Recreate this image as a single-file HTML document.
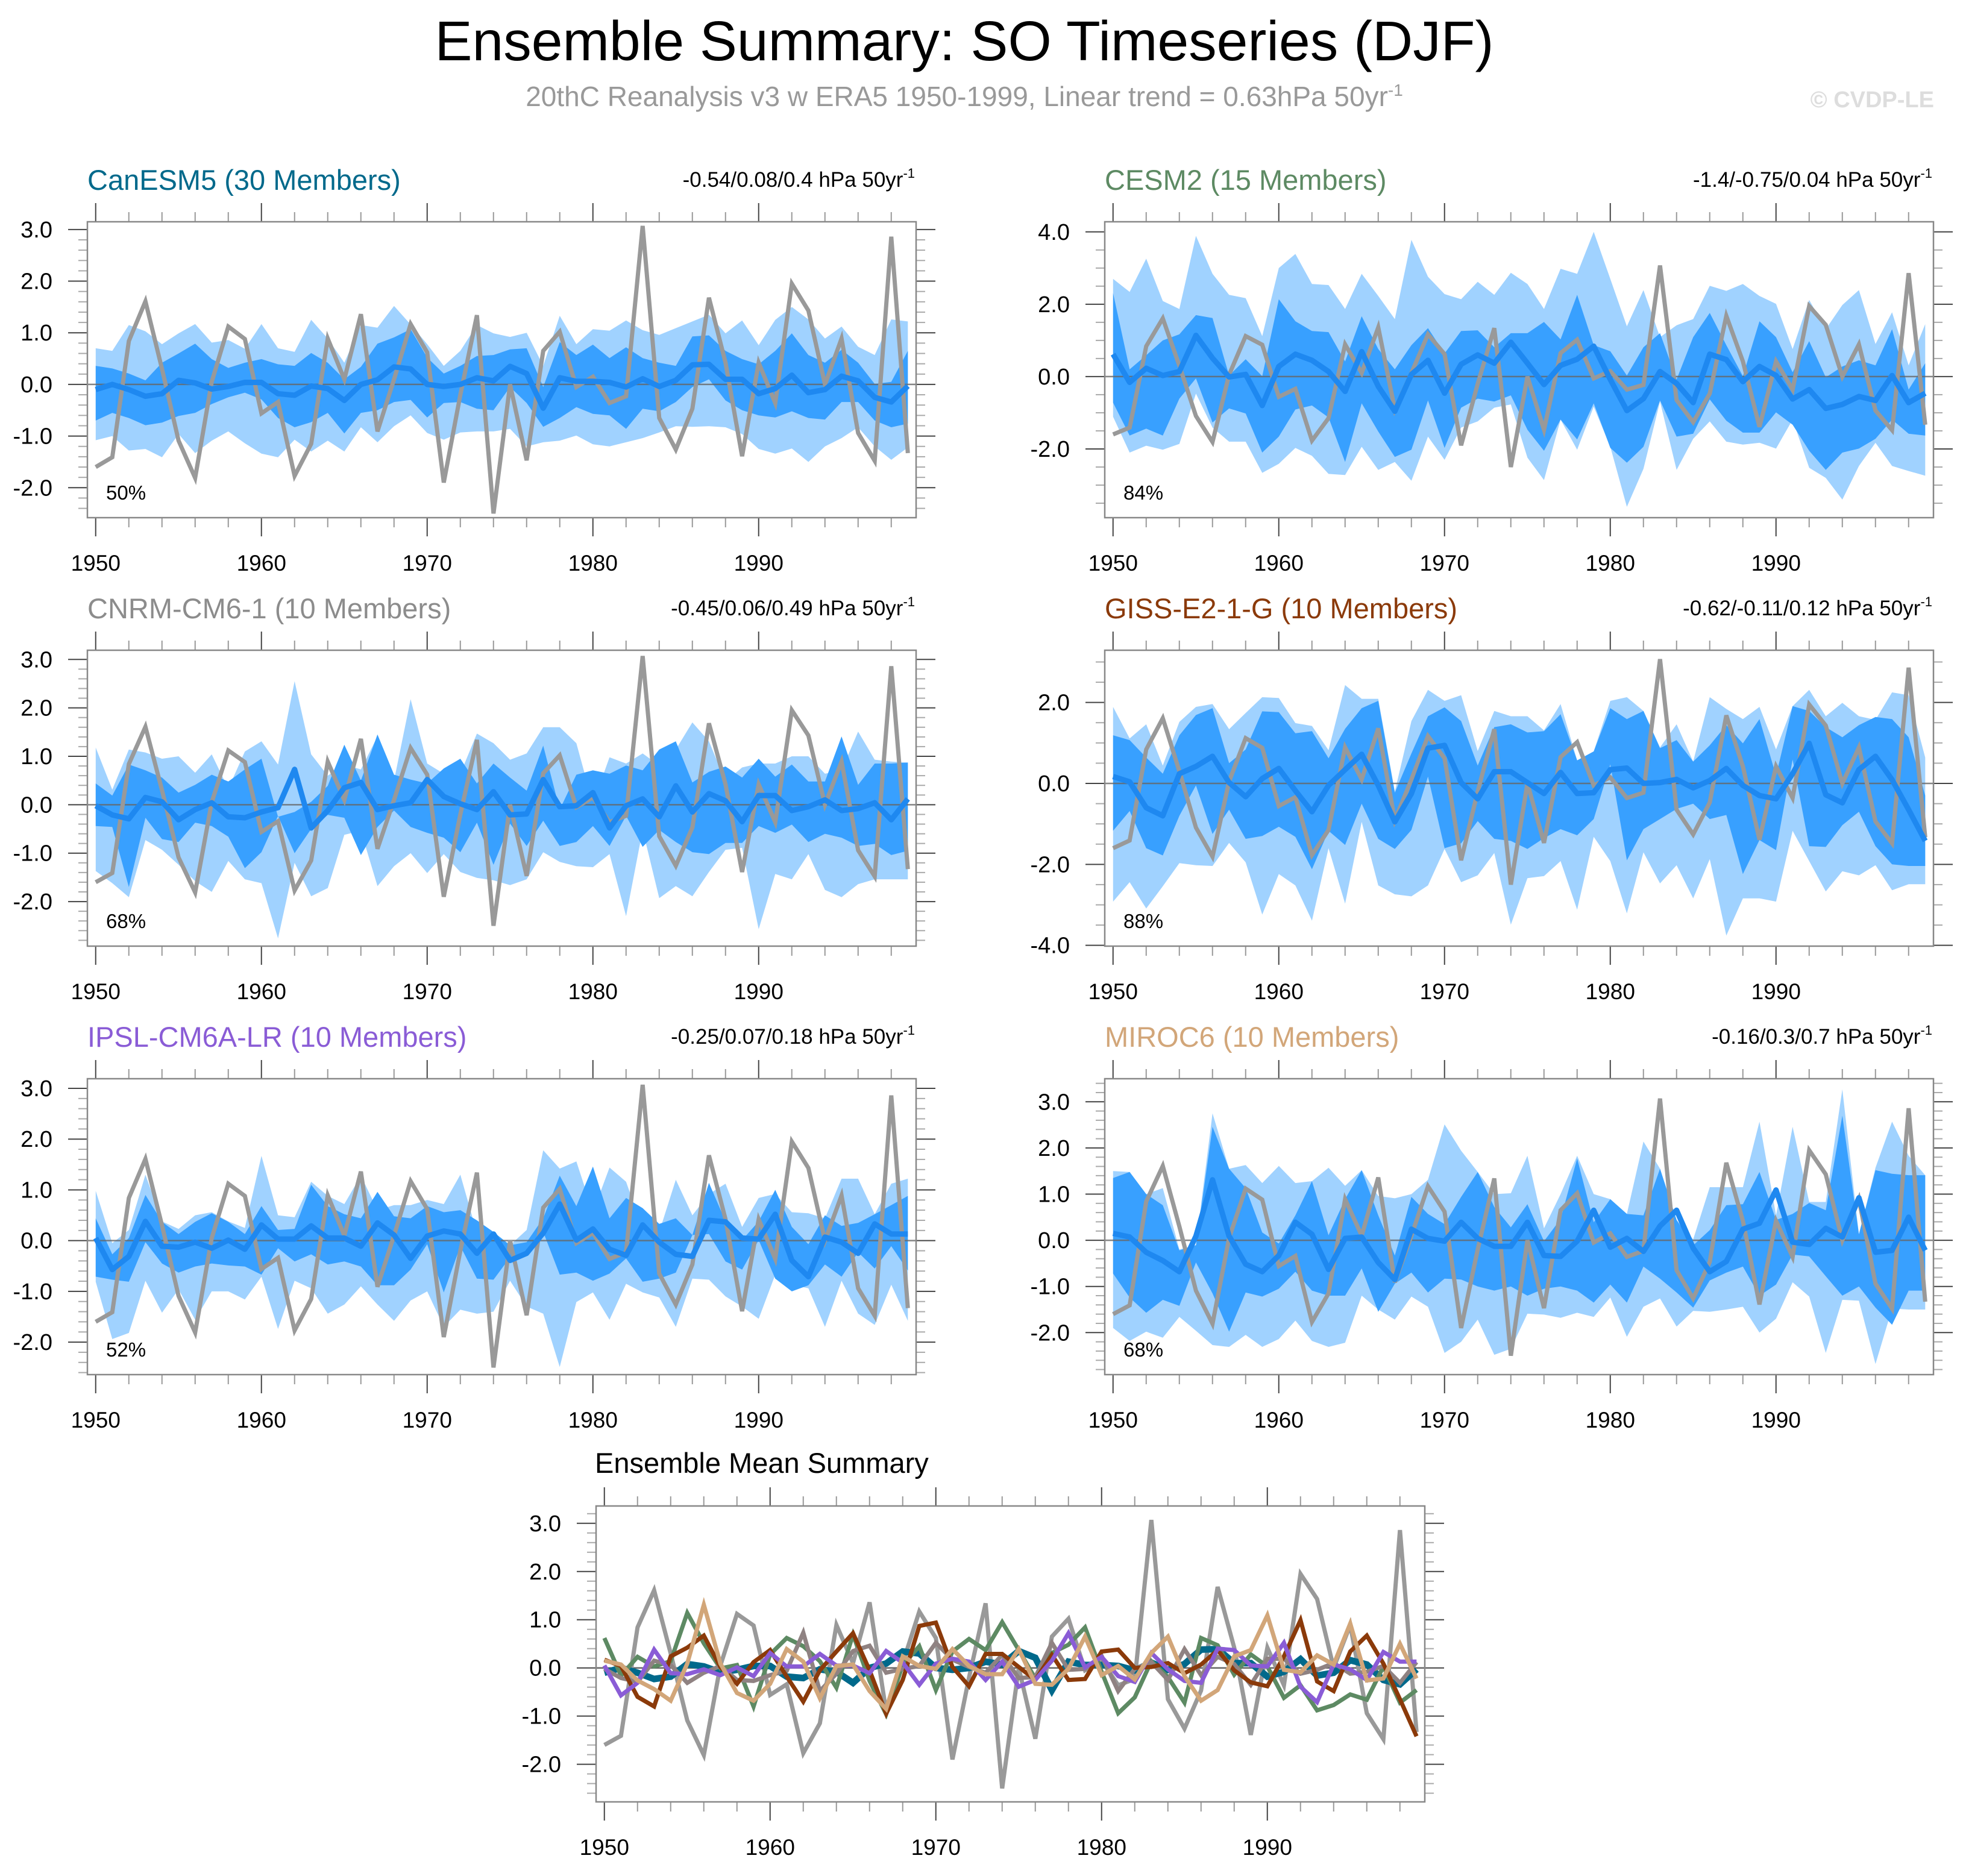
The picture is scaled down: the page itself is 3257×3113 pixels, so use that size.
<!DOCTYPE html>
<html><head><meta charset="utf-8">
<style>
html,body{margin:0;padding:0;background:#fff;}
svg{display:block;font-family:"Liberation Sans",Arial,sans-serif;}
</style></head>
<body>
<svg id="fig" width="3257" height="3113" viewBox="0 0 3257 3113" xmlns="http://www.w3.org/2000/svg">
<text x="1600" y="100" font-size="93" text-anchor="middle" fill="#000">Ensemble Summary: SO Timeseries (DJF)</text>
<text x="1600" y="176" font-size="46" text-anchor="middle" fill="#999">20thC Reanalysis v3 w ERA5 1950-1999, Linear trend = 0.63hPa 50yr<tspan dy="-17" font-size="28">-1</tspan></text>
<text x="3209" y="178" font-size="38" font-weight="bold" text-anchor="end" fill="#ddd">© CVDP-LE</text>
<g id="plots"></g>
</svg>
<script>
const years = [];
for (let y = 1950; y <= 1999; y++) years.push(y);
const obs = [-1.6,-1.41,0.84,1.61,0.3,-1.09,-1.81,0.05,1.12,0.88,-0.56,-0.34,-1.77,-1.15,0.89,0.1,1.36,-0.91,0.1,1.17,0.62,-1.9,-0.2,1.34,-2.5,0.0,-1.47,0.65,1.02,-0.05,0.15,-0.36,-0.23,3.07,-0.65,-1.26,-0.47,1.68,0.42,-1.39,0.42,-0.36,1.95,1.43,0.0,0.89,-0.94,-1.48,2.86,-1.33];

const canMean = [-0.1,0,-0.1,-0.23,-0.18,0.08,0.03,-0.09,-0.04,0.04,0.04,-0.18,-0.21,-0.03,-0.08,-0.31,0,0.09,0.34,0.3,0,-0.04,0,0.13,0.07,0.35,0.21,-0.46,0.13,0.06,0.06,0.04,-0.05,0.11,-0.04,0.08,0.38,0.39,0.1,0.1,-0.18,-0.08,0.18,-0.16,-0.1,0.16,0.07,-0.25,-0.34,-0.03];
const canHi1 = [0.36,0.31,0.21,0.08,0.42,0.6,0.79,0.49,0.32,0.42,0.49,0.39,0.36,0.61,0.42,0.1,0.34,0.79,0.91,1.07,0.52,0.21,0.36,0.55,0.57,0.68,0.7,-0.05,0.82,0.57,0.77,0.51,0.72,0.51,0.42,0.36,0.93,0.95,0.65,0.49,0.39,0.65,0.99,0.57,0.42,0.67,0.42,0.01,0.05,0.65];
const canLo1 = [-0.7,-0.55,-0.65,-0.79,-0.74,-0.61,-0.55,-0.38,-0.25,-0.16,-0.29,-0.65,-0.83,-0.73,-0.55,-0.95,-0.55,-0.5,-0.34,-0.3,-0.64,-0.36,-0.34,-0.47,-0.5,-0.05,-0.36,-0.82,-0.65,-0.44,-0.57,-0.6,-0.86,-0.47,-0.52,-0.34,-0.05,0.1,-0.31,-0.5,-0.6,-0.64,-0.52,-0.65,-0.68,-0.34,-0.34,-0.7,-0.83,-0.76];
const canHi2 = [0.7,0.65,1.15,1.03,0.78,0.99,1.17,0.81,0.86,0.69,1.17,0.7,0.63,1.25,0.89,0.42,1.15,1.1,1.52,1.16,0.78,0.36,0.65,1.15,0.99,0.92,1.0,0.36,1.33,0.78,1.07,1.04,1.24,1.05,0.96,1.09,1.22,1.35,0.99,1.24,0.76,1.25,1.5,1.26,0.89,1.12,0.73,0.57,1.26,1.22];
const canLo2 = [-1.08,-1.0,-1.28,-1.25,-1.41,-0.96,-1.33,-1.09,-0.91,-1.14,-1.34,-1.41,-1.07,-1.3,-1.09,-1.3,-0.83,-1.12,-0.81,-0.6,-0.94,-1.07,-0.93,-0.91,-0.91,-0.86,-1.2,-1.12,-1.09,-0.99,-1.16,-1.2,-1.12,-1.04,-0.93,-0.81,-0.82,-0.81,-0.83,-0.96,-1.25,-1.34,-1.24,-1.5,-1.2,-1.04,-0.83,-1.2,-1.46,-1.22];

const cesMean = [0.62,-0.16,0.23,0.03,0.14,1.14,0.51,-0.01,0.06,-0.8,0.28,0.62,0.45,0.14,-0.41,0.69,-0.27,-0.96,0.06,0.45,-0.46,0.34,0.6,0.37,0.95,0.37,-0.22,0.31,0.48,0.84,-0.08,-0.94,-0.61,0.14,-0.19,-0.72,0.62,0.47,-0.14,0.28,0.03,-0.62,-0.36,-0.88,-0.77,-0.55,-0.66,0.03,-0.72,-0.46];
const cesHi1 = [2.31,0.2,0.59,1.0,1.17,1.7,1.62,0.03,0.48,0.01,2.14,1.53,1.26,1.23,0.42,1.67,0.76,0.2,0.87,1.34,0.64,1.26,1.28,0.81,1.2,1.2,1.51,1.03,2.26,0.87,0.7,0.03,0.81,1.2,-0.08,1.09,1.76,0.87,0.01,1.53,1.09,0.12,0.98,-0.02,0.28,0.45,0.31,1.31,-0.36,0.37];
const cesLo1 = [-0.72,-1.63,-1.44,-1.63,-0.61,-0.05,-1.27,-0.88,-1.02,-2.1,-1.66,-0.91,-0.8,-1.13,-2.36,-0.74,-1.52,-2.22,-2.02,-0.66,-1.97,-0.86,-0.61,-0.69,-0.52,-1.47,-2.05,-1.19,-1.74,-0.74,-1.97,-2.38,-1.94,-0.66,-1.66,-1.58,-0.63,-1.22,-1.55,-1.55,-0.99,-1.33,-2.05,-2.58,-2.1,-1.99,-1.72,-1.19,-1.58,-1.63];
const cesHi2 = [2.7,2.34,3.26,2.09,1.87,3.89,2.84,2.26,2.17,1.12,3.0,3.39,2.56,2.53,1.87,2.84,2.23,1.59,3.78,2.76,2.28,2.14,2.62,2.26,2.87,2.56,1.87,2.98,2.84,4.0,2.7,1.39,2.39,1.09,1.42,1.59,2.51,2.37,2.56,2.23,2.01,0.76,2.12,1.31,1.98,2.39,0.9,1.78,0.31,1.45];
const cesLo2 = [-1.11,-2.1,-1.91,-2.02,-1.86,-0.47,-1.41,-1.8,-1.8,-2.66,-2.41,-1.97,-2.19,-2.69,-2.72,-1.94,-2.58,-2.36,-2.88,-1.66,-2.3,-1.41,-1.24,-0.86,-0.77,-2.24,-2.86,-1.19,-2.02,-0.83,-1.94,-3.6,-2.55,-0.69,-2.58,-1.72,-1.24,-1.8,-1.88,-1.83,-1.99,-1.19,-2.52,-2.8,-3.4,-2.47,-1.83,-2.47,-2.61,-2.74];

const cnrMean = [-0.02,-0.21,-0.29,0.15,0.06,-0.31,-0.1,0.04,-0.25,-0.27,-0.15,-0.06,0.73,-0.48,-0.12,0.35,0.46,-0.1,-0.02,0.04,0.52,0.17,0.02,-0.1,0.27,-0.21,-0.19,0.52,-0.04,-0.02,0.25,-0.48,-0.02,0.12,-0.25,0.39,-0.15,0.23,0.08,-0.35,0.19,0.19,-0.12,-0.04,0.1,-0.12,-0.08,0.04,-0.31,0.12];
const cnrHi1 = [0.44,0.19,0.83,0.71,0.56,0.25,0.41,0.62,0.48,0.73,0.95,-0.25,-0.15,0.06,0.39,1.24,0.5,1.45,0.62,0.52,0.44,0.75,0.95,0.44,0.85,0.56,0.29,1.22,-0.1,0.62,0.71,0.64,0.81,0.71,1.14,1.31,0.46,0.68,0.79,0.56,0.95,0.58,0.83,0.48,0.48,1.41,0.41,0.85,0.85,0.87];
const cnrLo1 = [-0.44,-0.46,-1.7,-0.27,-0.71,-0.77,-0.37,-0.44,-0.66,-1.31,-0.98,-0.23,-1.0,-0.5,-0.21,-0.27,-1.04,-0.46,-0.12,-0.46,-0.58,-0.68,-0.98,-0.37,-1.24,-0.39,-0.85,-0.33,-0.85,-0.77,-0.44,-0.85,-0.23,-0.87,-0.52,-0.77,-0.98,-1.02,-0.79,-0.79,-0.44,-0.58,-0.41,-0.77,-0.6,-0.68,-0.85,-0.81,-1.04,-0.95];
const cnrHi2 = [1.18,0.31,1.14,1.08,0.95,1.0,0.66,1.04,0.33,1.1,1.31,0.83,2.55,1.04,0.6,0.83,0.73,1.41,0.5,2.18,0.85,0.64,0.64,1.47,1.27,0.93,1.06,1.6,1.6,1.27,0.02,0.98,0.85,1.06,0.81,1.14,1.7,1.31,0.48,0.77,0.85,0.85,1.0,1.0,0.64,0.71,1.51,0.93,0.89,0.87];
const cnrLo2 = [-1.37,-1.62,-1.91,-0.73,-0.93,-1.24,-1.58,-1.8,-1.16,-1.54,-1.62,-2.76,-1.2,-1.89,-1.72,-0.62,-0.54,-1.68,-1.27,-1.0,-1.41,-1.02,-1.39,-1.51,-1.56,-1.66,-1.54,-0.98,-1.18,-1.27,-1.29,-1.02,-2.3,-0.52,-1.93,-1.68,-1.89,-1.39,-0.93,-0.89,-2.57,-1.43,-1.54,-1.02,-1.76,-1.91,-1.64,-1.54,-1.54,-1.54];

const gisMean = [0.17,0.04,-0.6,-0.8,0.24,0.42,0.67,0.02,-0.33,0.12,0.37,-0.18,-0.7,-0.05,0.34,0.72,-0.05,-0.95,-0.25,0.87,0.94,0.02,-0.38,0.29,0.29,0.02,-0.25,0.27,-0.25,-0.23,0.34,0.38,0.0,0.02,0.1,-0.11,0.07,0.37,-0.05,-0.3,-0.38,0.24,0.99,-0.28,-0.48,0.34,0.67,0.09,-0.65,-1.42];
const gisHi1 = [1.19,1.07,0.64,0.24,1.19,1.69,1.86,0.5,0.84,1.78,1.76,1.24,1.29,0.62,1.35,1.86,2.04,-0.23,0.74,1.66,1.88,1.54,0.44,1.39,1.46,1.26,1.29,1.71,0.57,0.79,1.86,1.59,1.79,0.87,1.07,0.54,0.94,1.44,0.99,1.59,0.19,1.91,1.79,1.39,1.14,1.44,1.64,1.59,1.14,-0.3];
const gisLo1 = [-1.17,-0.68,-1.6,-1.78,-0.8,-0.05,-1.25,-0.65,-1.37,-1.3,-1.07,-1.32,-2.12,-1.17,-1.52,-0.5,-1.37,-1.62,-1.15,0.17,-1.6,-1.48,-0.93,-1.37,-1.42,-1.62,-1.35,-1.13,-1.28,-0.88,0.47,-1.9,-1.13,-0.88,-0.63,-0.5,-0.88,-0.78,-2.24,-1.4,-1.65,0.59,-1.55,-1.57,-1.03,-0.7,-1.55,-2.0,-2.04,-2.04];
const gisHi2 = [1.89,1.11,1.46,0.44,1.52,1.89,1.96,1.34,1.74,2.13,2.11,1.49,1.42,0.82,2.43,2.09,2.09,-0.2,1.54,2.31,2.04,2.18,0.8,1.79,1.66,1.66,1.31,1.96,0.57,0.79,2.04,2.13,1.79,0.89,1.46,0.54,2.13,1.84,1.59,1.89,0.84,1.91,2.31,1.66,1.99,1.66,1.57,2.25,2.18,0.64];
const gisLo2 = [-2.92,-2.44,-3.09,-2.54,-1.97,-2.02,-2.04,-1.47,-1.95,-3.24,-2.24,-2.52,-3.39,-1.6,-2.97,-0.95,-2.52,-2.74,-2.79,-2.52,-1.62,-2.44,-2.27,-1.72,-3.49,-2.34,-2.29,-1.92,-3.12,-1.32,-1.92,-3.21,-1.7,-2.47,-2.02,-2.84,-1.87,-3.76,-2.84,-2.84,-2.92,-1.17,-1.92,-2.67,-2.17,-2.27,-2.02,-2.64,-2.49,-2.49];

const ipsMean = [0.05,-0.57,-0.31,0.38,-0.11,-0.13,-0.03,-0.15,0.01,-0.17,0.31,0.03,0.03,0.29,0.05,0.05,-0.11,0.35,0.11,-0.35,0.09,0.19,0.13,-0.25,0.13,-0.39,-0.25,0.15,0.72,0.01,0.23,-0.17,-0.29,0.31,-0.03,-0.27,-0.31,0.4,0.37,0.05,0.03,0.52,-0.39,-0.71,0.07,-0.03,-0.25,0.33,0.13,0.13];
const ipsHi1 = [0.44,-0.27,0.05,0.9,0.37,0.13,0.37,0.54,0.37,0.13,0.68,0.21,0.23,1.1,0.68,0.52,0.44,0.96,0.48,0.44,0.68,0.56,0.6,0.4,0.17,-0.09,-0.03,0.44,1.28,0.68,1.46,0.44,0.84,0.64,0.33,0.44,0.11,1.14,0.38,0.01,0.38,1.0,0.27,-0.07,0.5,0.29,0.35,0.52,0.7,0.88];
const ipsLo1 = [-0.71,-0.77,-0.81,-0.03,-0.45,-0.63,-0.51,-0.45,-0.49,-0.51,-0.67,-0.15,-0.41,-0.27,-0.47,-0.41,-0.51,-0.88,-0.88,-0.57,-0.07,-1.02,-0.11,-0.75,-0.77,-0.33,-0.21,0.17,-0.67,-0.63,-0.79,-0.65,-0.35,-0.81,-0.75,-0.63,0.11,0.13,-0.41,-0.57,0.01,-0.75,-1.0,-0.88,-0.47,-0.71,-0.23,-0.55,-0.11,-0.59];
const ipsHi2 = [0.98,-0.05,0.21,1.3,0.38,0.23,0.5,0.56,0.38,0.25,1.67,0.5,0.46,1.16,0.88,0.72,1.28,0.6,0.7,0.7,0.8,0.72,1.3,0.15,0.13,-0.09,0.21,1.78,1.42,1.56,0.56,1.44,1.16,0.23,0.17,1.2,0.5,0.92,1.12,0.27,0.84,0.92,0.56,0.54,0.44,1.22,1.22,0.52,1.12,1.22];
const ipsLo2 = [-0.81,-1.94,-1.82,-0.79,-1.42,-0.96,-1.56,-1.0,-1.0,-1.16,-0.71,-1.74,-0.79,-0.94,-1.44,-1.26,-0.9,-1.26,-1.58,-1.18,-1.0,-1.7,-1.36,-1.44,-1.4,-0.79,-1.3,-1.44,-2.49,-1.21,-1.02,-1.56,-0.85,-1.02,-1.12,-1.7,-0.75,-0.77,-1.1,-1.3,-1.54,-0.67,-0.87,-0.94,-1.7,-0.79,-1.44,-1.66,-0.87,-1.58];

const mirMean = [0.15,0.07,-0.26,-0.44,-0.68,0.09,1.31,0.09,-0.52,-0.68,-0.33,0.39,0.13,-0.63,0.04,0.07,-0.48,-0.85,0.24,0.04,-0.02,0.39,0.04,-0.13,-0.13,0.39,-0.33,-0.35,-0.02,0.65,-0.15,0.04,-0.24,0.31,0.65,-0.17,-0.68,-0.46,0.24,0.37,1.09,-0.04,-0.09,0.26,0.07,0.92,-0.26,-0.22,0.5,-0.22];
const mirHi1 = [1.35,1.48,1.0,0.76,-0.22,-0.11,2.46,1.55,1.13,0.17,-0.07,0.54,1.28,0.11,0.89,1.52,0.54,-0.33,0.94,0.57,0.35,0.94,1.48,0.72,0.28,0.78,-0.02,0.46,1.77,0.39,0.89,0.57,0.54,1.55,0.44,-0.11,0.22,0.76,0.78,1.48,0.44,0.57,0.81,0.65,2.7,0.13,1.52,1.44,1.41,1.41];
const mirLo1 = [-0.72,-1.24,-1.57,-1.29,-1.42,-0.48,-1.15,-1.98,-1.13,-1.22,-1.05,-0.68,-1.09,-1.2,-1.2,-0.61,-1.55,-0.94,-0.7,-1.13,-0.83,-0.85,-1.0,-1.09,-1.0,-1.2,-1.05,-1.0,-1.09,-1.35,-0.96,-1.35,-0.57,-0.83,-1.13,-1.46,-0.87,-0.7,-0.57,-1.2,-0.96,-0.31,-0.35,-0.78,-1.2,-1.0,-1.46,-1.83,-1.09,-1.09];
const mirHi2 = [1.5,1.48,1.0,1.13,-0.2,-0.1,2.75,1.55,1.63,1.24,1.61,1.24,1.28,1.57,1.18,1.52,0.96,0.91,1.0,1.31,2.51,1.94,1.48,1.0,1.02,1.83,0.26,1.0,1.83,1.0,0.89,0.57,2.14,1.55,0.44,0.02,1.15,1.15,1.15,2.57,0.54,2.46,0.83,0.83,3.27,0.13,1.57,2.57,1.83,1.41];
const mirLo2 = [-1.9,-2.18,-1.98,-2.11,-1.66,-1.96,-2.27,-2.31,-2.05,-2.31,-2.14,-1.74,-2.18,-2.31,-2.22,-1.2,-1.5,-1.72,-1.22,-1.44,-2.44,-2.2,-1.72,-2.48,-2.35,-1.59,-1.61,-1.68,-1.57,-1.66,-1.24,-2.09,-1.44,-1.26,-1.87,-1.53,-1.55,-1.5,-1.44,-2.0,-1.7,-0.91,-1.22,-2.44,-1.29,-1.31,-2.68,-1.48,-1.5,-1.5];

const modelNames = ["CanESM5 (30 Members)","CESM2 (15 Members)","CNRM-CM6-1 (10 Members)","GISS-E2-1-G (10 Members)","IPSL-CM6A-LR (10 Members)","MIROC6 (10 Members)"];
const trendText = ["-0.54/0.08/0.4","-1.4/-0.75/0.04","-0.45/0.06/0.49","-0.62/-0.11/0.12","-0.25/0.07/0.18","-0.16/0.3/0.7"];
const pctText = ["50%","84%","68%","88%","52%","68%"];
const xTicks = [1950,1960,1970,1980,1990];

const NS = "http://www.w3.org/2000/svg";
const root = document.getElementById('plots');
function mk(tag, attrs, parent, text) {
  const e = document.createElementNS(NS, tag);
  for (const k in attrs) e.setAttribute(k, attrs[k]);
  if (text !== undefined) e.textContent = text;
  (parent || root).appendChild(e);
  return e;
}

const panels = [
  {key:'canesm5', left:145, top:368, ymin:-2.58, ymax:3.15, major:[3,2,1,0,-1,-2], minor:0.2, color:'#00698b', mean:canMean, hi1:canHi1, lo1:canLo1, hi2:canHi2, lo2:canLo2},
  {key:'cesm2', left:1833, top:368, ymin:-3.9, ymax:4.28, major:[4,2,0,-2], minor:0.5, color:'#5d8a63', mean:cesMean, hi1:cesHi1, lo1:cesLo1, hi2:cesHi2, lo2:cesLo2},
  {key:'cnrm', left:145, top:1079, ymin:-2.92, ymax:3.19, major:[3,2,1,0,-1,-2], minor:0.2, color:'#8c8c8c', mean:cnrMean, hi1:cnrHi1, lo1:cnrLo1, hi2:cnrHi2, lo2:cnrLo2},
  {key:'giss', left:1833, top:1079, ymin:-4.02, ymax:3.29, major:[2,0,-2,-4], minor:0.5, color:'#8b3a0a', mean:gisMean, hi1:gisHi1, lo1:gisLo1, hi2:gisHi2, lo2:gisLo2},
  {key:'ipsl', left:145, top:1790, ymin:-2.64, ymax:3.19, major:[3,2,1,0,-1,-2], minor:0.2, color:'#8a5cd6', mean:ipsMean, hi1:ipsHi1, lo1:ipsLo1, hi2:ipsHi2, lo2:ipsLo2},
  {key:'miroc6', left:1833, top:1790, ymin:-2.91, ymax:3.5, major:[3,2,1,0,-1,-2], minor:0.2, color:'#d2a679', mean:mirMean, hi1:mirHi1, lo1:mirLo1, hi2:mirHi2, lo2:mirLo2}
];
const W = 1375, H = 491;

function axes(g, p) {
  const xs = yr => p.left + (yr - 1949.5) / 50 * W;
  const ys = v => p.top + (p.ymax - v) / (p.ymax - p.ymin) * H;
  for (let yr = 1950; yr <= 1999; yr++) {
    const isMaj = yr % 10 === 0;
    if (!isMaj && yr % 2 !== 0) continue;
    const len = isMaj ? 31 : 16;
    const col = isMaj ? '#444' : '#999';
    const t1 = mk('line', {x1:xs(yr), x2:xs(yr), y1:p.top, y2:p.top-len, stroke:col, 'stroke-width':2}, g);
    
    
    const t2 = mk('line', {x1:xs(yr), x2:xs(yr), y1:p.top+H, y2:p.top+H+len, stroke:col, 'stroke-width':2}, g);
    
    
  }
  xTicks.forEach(yr => {
    const t = mk('text', {x:xs(yr), y:p.top+H+88, 'font-size':37, 'text-anchor':'middle', fill:'#000'}, g, String(yr));
    
    
  });
  const n0 = Math.ceil(p.ymin / p.minor - 1e-6), n1 = Math.floor(p.ymax / p.minor + 1e-6);
  for (let n = n0; n <= n1; n++) {
    const v = n * p.minor;
    const isMaj = p.major.some(m => Math.abs(m - v) < 1e-6);
    const len = isMaj ? 32 : 15;
    const col = isMaj ? '#444' : '#aaa';
    const a = mk('line', {x1:p.left-len, x2:p.left, y1:ys(v), y2:ys(v), stroke:col, 'stroke-width':2}, g);
    
    
    const b = mk('line', {x1:p.left+W, x2:p.left+W+len, y1:ys(v), y2:ys(v), stroke:col, 'stroke-width':2}, g);
    
    
  }
  p.major.forEach(v => {
    const t = mk('text', {x:p.left-58, y:ys(v)+13, 'font-size':38, 'text-anchor':'end', fill:'#000'}, g, v.toFixed(1));
    
    
  });
  return {xs, ys};
}

function poly(vals, xs, ys) {
  return vals.map((v, i) => xs(years[i]).toFixed(1) + ',' + ys(v).toFixed(1)).join(' ');
}
function band(hi, lo, xs, ys) {
  const up = hi.map((v, i) => xs(years[i]).toFixed(1) + ',' + ys(v).toFixed(1));
  const dn = lo.map((v, i) => xs(years[i]).toFixed(1) + ',' + ys(v).toFixed(1)).reverse();
  return up.concat(dn).join(' ');
}

panels.forEach((p, idx) => {
  const g = mk('g', {});
  
  
  const clipId = 'clip' + idx;
  const cp = mk('clipPath', {id: clipId}, g);
  mk('rect', {x:p.left, y:p.top, width:W, height:H}, cp);
  const {xs, ys} = axes(g, p);
  const data = mk('g', {'clip-path':'url(#' + clipId + ')'}, g);
  const b2 = mk('polygon', {points: band(p.hi2, p.lo2, xs, ys), fill:'#a0d2ff'}, data);
  
  
  const b1 = mk('polygon', {points: band(p.hi1, p.lo1, xs, ys), fill:'#38a0ff'}, data);
  
  
  const z = mk('line', {x1:p.left, x2:p.left+W, y1:ys(0), y2:ys(0), stroke:'#666', 'stroke-width':2.5, 'stroke-opacity':0.8}, data);
  
  
  const o = mk('polyline', {points: poly(obs, xs, ys), fill:'none', stroke:'#999', 'stroke-width':7, 'stroke-linejoin':'miter'}, data);
  
  
  const m = mk('polyline', {points: poly(p.mean, xs, ys), fill:'none', stroke:'#1e88f0', 'stroke-width':9, 'stroke-linejoin':'round'}, data);
  
  
  const box = mk('rect', {x:p.left, y:p.top, width:W, height:H, fill:'none', stroke:'#888', 'stroke-width':2.5}, g);
  
  
  const t = mk('text', {x:p.left, y:p.top-53, 'font-size':47, fill:p.color}, g, modelNames[idx]);
  
  
  const tr = mk('text', {x:p.left+W-2, y:p.top-58, 'font-size':35, 'text-anchor':'end', fill:'#000'}, g);
  
  
  tr.textContent = trendText[idx] + ' hPa 50yr';
  mk('tspan', {dy:-15, 'font-size':22}, tr, '-1');
  const pc = mk('text', {x:p.left+31, y:p.top+H-30, 'font-size':33, fill:'#000'}, g, pctText[idx]);
  
  
});

const sumColors = ['#00698b','#5d8a63','#8f8282','#8b3a0a','#8a5cd6','#d2a679'];
const summ = {left:989, top:2499, ymin:-2.78, ymax:3.36, major:[3,2,1,0,-1,-2], minor:0.2};
(function(){
  const g = mk('g', {});
  
  
  const cp = mk('clipPath', {id:'clipS'}, g);
  mk('rect', {x:summ.left, y:summ.top, width:W, height:H}, cp);
  const {xs, ys} = axes(g, summ);
  const data = mk('g', {'clip-path':'url(#clipS)'}, g);
  const z = mk('line', {x1:summ.left, x2:summ.left+W, y1:ys(0), y2:ys(0), stroke:'#666', 'stroke-width':2.5}, data);
  
  
  const o = mk('polyline', {points: poly(obs, xs, ys), fill:'none', stroke:'#999', 'stroke-width':7}, data);
  
  
  panels.forEach((p, i) => {
    const l = mk('polyline', {points: poly(p.mean, xs, ys), fill:'none', stroke:sumColors[i], 'stroke-width': i === 0 ? 11 : 7}, data);
    
    
  });
  const box = mk('rect', {x:summ.left, y:summ.top, width:W, height:H, fill:'none', stroke:'#888', 'stroke-width':2.5}, g);
  
  
  const t = mk('text', {x:summ.left-2, y:summ.top-55, 'font-size':47, fill:'#000'}, g, 'Ensemble Mean Summary');
  
  
})();
</script>
</body></html>
